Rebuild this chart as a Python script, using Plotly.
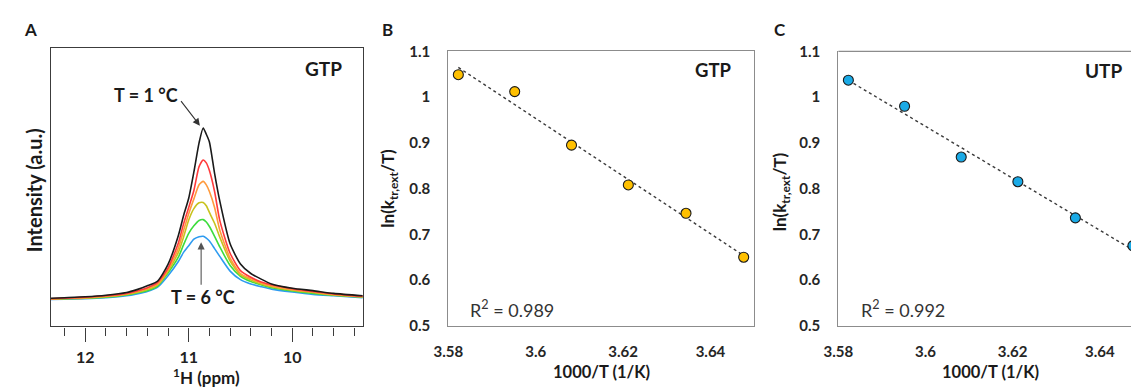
import numpy as np
import plotly.graph_objects as go

W, H = 1139, 391
OFF = 8  # default page margin of the written html

# ---------------- Panel A data: 1H spectra ----------------
ppm = [12.33, 12.2, 12.0, 11.8, 11.6, 11.5, 11.4, 11.3, 11.2, 11.1, 11.05, 11.0, 10.95, 10.9,
       10.86, 10.83, 10.8, 10.75, 10.7, 10.6, 10.5, 10.4, 10.3, 10.2, 10.0, 9.8, 9.6, 9.32]
int_1C = [0, 0.3, 0.8, 1.7, 3.3, 5.0, 7.2, 10.0, 19.7, 36.6, 48.1, 58.3, 73.6, 90.6,
          99.2, 95.6, 91.1, 72.8, 56.7, 31.7, 20.0, 14.4, 11.1, 8.3, 5.8, 4.4, 2.8, 1.4]
int_2C = [-0.3, 0, 0.6, 1.4, 2.8, 4.2, 6.1, 9.2, 17.5, 32.2, 43.3, 52.9, 62.8, 76.7,
          80.6, 78.9, 74.4, 62.2, 45.4, 26.2, 16.1, 12.2, 9.4, 7.8, 5.6, 3.9, 2.5, 1.1]
int_3C = [-0.3, 0, 0.3, 1.1, 2.5, 3.9, 5.6, 8.3, 16.7, 29.2, 39.4, 49.3, 57.9, 66.1,
          68.1, 66.1, 62.2, 52.9, 39.8, 23.3, 14.4, 11.4, 8.9, 7.2, 5.0, 3.6, 2.2, 0.8]
int_4C = [-0.6, -0.3, 0, 0.8, 2.2, 3.3, 5.0, 7.8, 15.7, 26.7, 35.6, 45.6, 52.2, 55.6,
          55.8, 53.9, 50.0, 43.7, 35.6, 21.7, 13.6, 10.6, 8.3, 6.7, 4.7, 3.3, 1.9, 0.8]
int_5C = [-0.6, -0.3, 0, 0.6, 1.9, 3.1, 4.4, 7.1, 14.7, 23.9, 31.1, 37.8, 42.2, 45.3,
          45.8, 44.4, 41.8, 36.1, 29.9, 19.1, 12.8, 9.7, 7.8, 6.1, 4.2, 2.8, 1.7, 0.6]
int_6C = [-0.8, -0.6, -0.3, 0.3, 1.4, 2.5, 3.9, 6.4, 13.1, 21.4, 26.7, 30.6, 34.4, 35.8,
          36.1, 35.0, 33.3, 28.9, 24.4, 15.8, 10.8, 8.3, 6.7, 5.3, 3.6, 2.2, 1.4, 0.3]
spectra_names = ["6 °C", "5 °C", "4 °C", "3 °C", "2 °C", "1 °C"]
spectra_colors = ["#2E9BF0", "#3DDC3D", "#C8C21E", "#FF9A3C", "#FF3B3B", "#1A1A1A"]

# ---------------- Panels B and C: Arrhenius-type data ----------------
invT = [3.5823, 3.5952, 3.6082, 3.6212, 3.6344, 3.6476]
ln_gtp = [1.049, 1.012, 0.895, 0.808, 0.746, 0.650]
ln_utp = [1.037, 0.980, 0.869, 0.815, 0.736, 0.675]
r2_gtp = "0.989"
r2_utp = "0.992"
x_ticks = [3.58, 3.60, 3.62, 3.64]
x_ticktext = ["3.58", "3.6", "3.62", "3.64"]
y_ticks = [0.5, 0.6, 0.7, 0.8, 0.9, 1.0, 1.1]
y_ticktext = ["0.5", "0.6", "0.7", "0.8", "0.9", "1", "1.1"]

FW, FH = W - OFF, H - OFF


def px(x):
    return (x - OFF) / FW


def py(y):
    return 1 - (y - OFF) / FH


FONT = "Lato, sans-serif"

fig = go.Figure()

# Panel A spectra (hottest first so the 1 °C trace is on top)
for vals, name, col in zip([int_6C, int_5C, int_4C, int_3C, int_2C, int_1C], spectra_names, spectra_colors):
    fig.add_trace(go.Scatter(x=ppm, y=vals, mode="lines", name=name,
                             line=dict(color=col, width=1.6, shape="spline", smoothing=0.6),
                             xaxis="x", yaxis="y", showlegend=False, hoverinfo="skip"))

# Panel B
fit_b = np.polyfit(invT, ln_gtp, 1)
xf = np.array([min(invT), max(invT)])
fig.add_trace(go.Scatter(x=xf, y=np.polyval(fit_b, xf), mode="lines",
                         line=dict(color="#3A3A3A", width=1.4, dash="dot"),
                         xaxis="x2", yaxis="y2", showlegend=False))
fig.add_trace(go.Scatter(x=invT, y=ln_gtp, mode="markers",
                         marker=dict(size=10, color="#FFC000", line=dict(color="#1A1A1A", width=1.1)),
                         xaxis="x2", yaxis="y2", showlegend=False))

# Panel C
fit_c = np.polyfit(invT, ln_utp, 1)
fig.add_trace(go.Scatter(x=xf, y=np.polyval(fit_c, xf), mode="lines",
                         line=dict(color="#3A3A3A", width=1.4, dash="dot"),
                         xaxis="x3", yaxis="y3", showlegend=False))
fig.add_trace(go.Scatter(x=invT, y=ln_utp, mode="markers", cliponaxis=False,
                         marker=dict(size=10, color="#1AAAE6", line=dict(color="#1A1A1A", width=1.1)),
                         xaxis="x3", yaxis="y3", showlegend=False))

axA = "#3C3C3C"
axBC = "#8C8C8C"
tick_font_bc = dict(family=FONT, size=15, color="#262626", weight="bold")

fig.update_layout(
    width=FW, height=FH, margin=dict(l=0, r=0, t=0, b=0),
    paper_bgcolor="white", plot_bgcolor="white",
    font=dict(family=FONT, color="#1A1A1A"),
    xaxis=dict(domain=[px(36), px(353)], range=[12.334, 9.312], anchor="y",
               showgrid=False, zeroline=False, showline=True, mirror=True,
               linecolor=axA, linewidth=1.3,
               tickmode="linear", tick0=10, dtick=1, ticks="outside", ticklen=14,
               tickwidth=1.3, tickcolor=axA, ticklabelstandoff=2,
               tickfont=dict(family=FONT, size=16, color="#222", weight="bold"),
               minor=dict(dtick=0.2, tick0=10, ticks="outside", ticklen=8,
                          tickwidth=1.3, tickcolor=axA, showgrid=False)),
    yaxis=dict(domain=[py(331.7), py(40)], range=[-16.5, 145.6], anchor="x",
               showgrid=False, zeroline=False, showline=True, mirror=True,
               linecolor=axA, linewidth=1.3, showticklabels=False, ticks=""),
    xaxis2=dict(domain=[px(439), px(749)], range=[3.58, 3.65], anchor="y2",
                showgrid=False, zeroline=False, showline=True, mirror=True,
                linecolor=axBC, linewidth=1.2, tickmode="array", tickvals=x_ticks,
                ticktext=x_ticktext, ticks="", ticklabelstandoff=12, tickfont=tick_font_bc),
    yaxis2=dict(domain=[py(331), py(43)], range=[0.5, 1.1], anchor="x2",
                showgrid=False, zeroline=False, showline=True, mirror=True,
                linecolor=axBC, linewidth=1.2, tickmode="array", tickvals=y_ticks,
                ticktext=y_ticktext, ticks="", ticklabelstandoff=14, tickfont=tick_font_bc),
    xaxis3=dict(domain=[px(834.3), 1.0], range=[3.58, 3.649], anchor="y3",
                showgrid=False, zeroline=False, showline=True, mirror=False,
                linecolor=axBC, linewidth=1.2, tickmode="array", tickvals=x_ticks,
                ticktext=x_ticktext, ticks="", ticklabelstandoff=12, tickfont=tick_font_bc),
    yaxis3=dict(domain=[py(331), py(43)], range=[0.5, 1.1], anchor="x3",
                showgrid=False, zeroline=False, showline=True, mirror=False,
                linecolor=axBC, linewidth=1.2, tickmode="array", tickvals=y_ticks,
                ticktext=y_ticktext, ticks="", ticklabelstandoff=14, tickfont=tick_font_bc),
)

# top border of panel C (its right edge is cut off by the picture)
fig.add_shape(type="line", xref="paper", yref="paper", x0=px(834.3), x1=1.0,
              y0=py(43), y1=py(43), line=dict(color=axBC, width=1.2))

ann = []


def txt(x, y, s, size, bold=True, angle=0, color="#1A1A1A", xanchor="center"):
    ann.append(dict(x=px(x), y=py(y), xref="paper", yref="paper", showarrow=False,
                    text=f"<b>{s}</b>" if bold else s, textangle=angle,
                    xanchor=xanchor, yanchor="middle",
                    font=dict(family=FONT, size=size, color=color)))


# panel letters
txt(16, 20, "A", 17)
txt(377, 20, "B", 17)
txt(775, 20, "C", 17)

# panel A texts
txt(312.5, 61, "GTP", 19)
txt(133, 88.5, "T = 1 °C", 18)
txt(190, 300.5, "T = 6 °C", 18)
txt(20, 189, "Intensity (a.u.)", 20, angle=-90)
txt(194, 384.5, "<sup>1</sup>H (ppm)", 17)

# arrows in panel A
ann.append(dict(x=10.892, y=100.6, xref="x", yref="y", ax=-20, ay=-26, axref="pixel", ayref="pixel",
                text="", showarrow=True, arrowhead=2, arrowsize=1.3, arrowwidth=1.1,
                arrowcolor="#333333", standoff=0))
ann.append(dict(x=10.880, y=32.6, xref="x", yref="y", ax=0, ay=44, axref="pixel", ayref="pixel",
                text="", showarrow=True, arrowhead=2, arrowsize=1.3, arrowwidth=1.1,
                arrowcolor="#555555", standoff=0))

# panel B texts
txt(708, 63, "GTP", 18.5)
txt(459, 313, f"R<sup>2</sup> = {r2_gtp}", 18, bold=False, color="#333", xanchor="left")
txt(594, 379, "1000/T (1/K)", 16.5)
txt(379, 187, "ln(k<sub>tr,ext</sub>/T)", 17, angle=-90)

# panel C texts
txt(1104, 63, "UTP", 19)
txt(855, 313, f"R<sup>2</sup> = {r2_utp}", 18, bold=False, color="#333", xanchor="left")
txt(989, 379, "1000/T (1/K)", 16.5)
txt(777, 190, "ln(k<sub>tr,ext</sub>/T)", 17, angle=-90)

fig.update_layout(annotations=ann)

fig.write_html("out.html")
